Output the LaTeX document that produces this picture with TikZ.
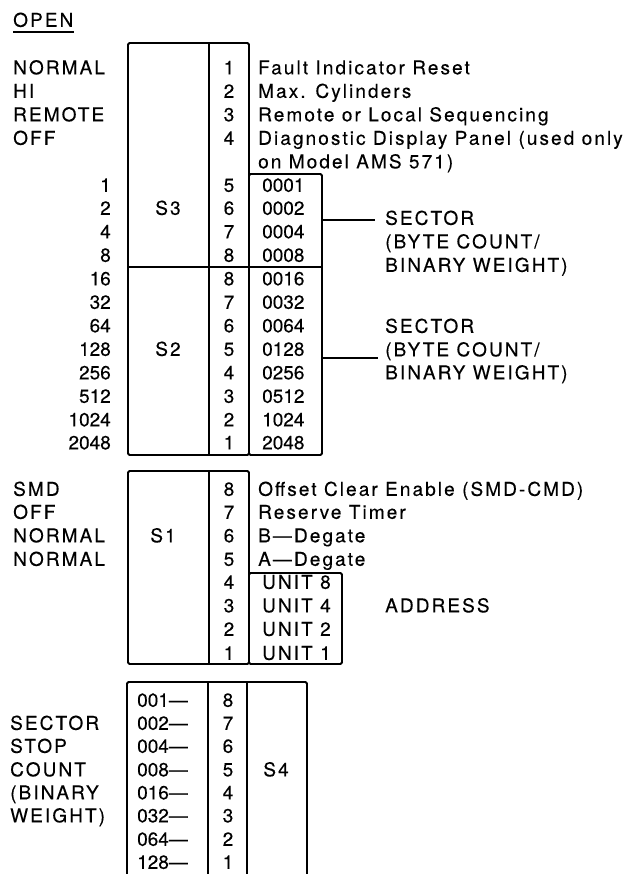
\documentclass[tikz,border=0pt]{standalone}
\usepackage{fontspec}
\setmainfont{TeX Gyre Heros}[LetterSpace=11, FakeBold=0.3]
\newfontfamily\numfont{TeX Gyre Heros}[FakeBold=0.3]
\usetikzlibrary{positioning}
\tikzset{
  swtext/.style={anchor=west, inner sep=0pt, text height=13.6pt, text depth=0pt, font=\fontsize{19}{23}\selectfont},
  swnum/.style={swtext, font=\fontsize{19}{23}\selectfont\numfont},
  swright/.style={swnum, anchor=east},
  swpos/.style={swnum, anchor=center},
  swname/.style={swtext, anchor=center},
  swbox/.style={draw=black, line width=1.9pt, rounded corners=1.5pt},
  swlead/.style={draw=black, line width=1.9pt},
  swuline/.style={draw=black, line width=1.5pt}
}

\begin{document}
\begin{tikzpicture}[x=1pt,y=-1pt]
\useasboundingbox (0,0) rectangle (631,874);

\node[swtext] (open) at (13,20) {OPEN};
\draw[swuline] ([yshift=-5pt]open.south west) -- ([yshift=-5pt]open.south east);

% S3 / S2
\draw[swbox] (128,43) rectangle (249,455);
\draw[swbox] (249,174) rectangle (322,455);
\draw[swlead] (209,43) -- (209,455);
\draw[swlead] (128,267) -- (322,267);

\node[swtext] (set1) at (13,67.5) {NORMAL};
\node[swtext] (set2) at (13,91) {HI};
\node[swtext] (set3) at (13,114.5) {REMOTE};
\node[swtext] (set4) at (13,138) {OFF};

\node[swright] (w1) at (111,185) {1};
\node[swright] (w2) at (111,208) {2};
\node[swright] (w4) at (111,231.5) {4};
\node[swright] (w8) at (111,255) {8};
\node[swright] (w16) at (111,278.5) {16};
\node[swright] (w32) at (111,302) {32};
\node[swright] (w64) at (111,325.5) {64};
\node[swright] (w128) at (111,349) {128};
\node[swright] (w256) at (111,372.5) {256};
\node[swright] (w512) at (111,396) {512};
\node[swright] (w1024) at (111,419.5) {1024};
\node[swright] (w2048) at (111,442.5) {2048};

\node[swname] (s3) at (168,208) {S3};
\node[swname] (s2) at (168,349) {S2};

\node[swpos] (a1) at (229,67.5) {1};
\node[swpos] (a2) at (229,91) {2};
\node[swpos] (a3) at (229,114.5) {3};
\node[swpos] (a4) at (229,138) {4};
\node[swpos] (a5) at (229,185) {5};
\node[swpos] (a6) at (229,208) {6};
\node[swpos] (a7) at (229,231.5) {7};
\node[swpos] (a8) at (229,255) {8};
\node[swpos] (b8) at (229,278.5) {8};
\node[swpos] (b7) at (229,302) {7};
\node[swpos] (b6) at (229,325.5) {6};
\node[swpos] (b5) at (229,349) {5};
\node[swpos] (b4) at (229,372.5) {4};
\node[swpos] (b3) at (229,396) {3};
\node[swpos] (b2) at (229,419.5) {2};
\node[swpos] (b1) at (229,442.5) {1};

\node[swtext] (f1) at (258,67.5) {Fault Indicator Reset};
\node[swtext] (f2) at (258,91) {Max. Cylinders};
\node[swtext] (f3) at (258,114.5) {Remote or Local Sequencing};
\node[swtext] (f4) at (258,138) {Diagnostic Display Panel (used only};
\node[swtext] (f4b) at (258,161.5) {on Model AMS 571)};

\node[swnum] (c1) at (262,185) {0001};
\node[swnum] (c2) at (262,208) {0002};
\node[swnum] (c4) at (262,231.5) {0004};
\node[swnum] (c8) at (262,255) {0008};
\node[swnum] (c16) at (262,278.5) {0016};
\node[swnum] (c32) at (262,302) {0032};
\node[swnum] (c64) at (262,325.5) {0064};
\node[swnum] (c128) at (262,349) {0128};
\node[swnum] (c256) at (262,372.5) {0256};
\node[swnum] (c512) at (262,396) {0512};
\node[swnum] (c1024) at (262,419.5) {1024};
\node[swnum] (c2048) at (262,442.5) {2048};

\node[swtext] (sec3a) at (385,218) {SECTOR};
\node[swtext] (sec3b) at (385,241.5) {(BYTE COUNT/};
\node[swtext] (sec3c) at (385,265) {BINARY WEIGHT)};
\coordinate (tap3) at (322,220);
\draw[swlead] (tap3) -- ([xshift=-10pt]tap3 -| sec3a.west);

\node[swtext] (sec2a) at (385,326) {SECTOR};
\node[swtext] (sec2b) at (385,349.5) {(BYTE COUNT/};
\node[swtext] (sec2c) at (385,372.5) {BINARY WEIGHT)};
\coordinate (tap2) at (322,358);
\draw[swlead] (tap2) -- ([xshift=-7pt]tap2 -| sec2b.west);

% S1
\draw[swbox] (128,471) rectangle (249,664);
\draw[swbox] (249,573) rectangle (342,664);
\draw[swlead] (209,471) -- (209,664);

\node[swtext] (m1) at (13,489) {SMD};
\node[swtext] (m2) at (13,512) {OFF};
\node[swtext] (m3) at (13,535.5) {NORMAL};
\node[swtext] (m4) at (13,559) {NORMAL};

\node[swname] (s1) at (163,535.5) {S1};

\node[swpos] (e8) at (229,489) {8};
\node[swpos] (e7) at (229,512) {7};
\node[swpos] (e6) at (229,535.5) {6};
\node[swpos] (e5) at (229,559) {5};
\node[swpos] (e4) at (229,582) {4};
\node[swpos] (e3) at (229,605.5) {3};
\node[swpos] (e2) at (229,629) {2};
\node[swpos] (e1) at (229,653) {1};

\node[swtext] (g8) at (258,489) {Offset Clear Enable (SMD-CMD)};
\node[swtext] (g7) at (258,512) {Reserve Timer};
\node[swtext] (g6) at (258,535.5) {B—Degate};
\node[swtext] (g5) at (258,559) {A—Degate};
\node[swtext] (u8) at (262,582) {UNIT 8};
\node[swtext] (u4) at (262,605.5) {UNIT 4};
\node[swtext] (u2) at (262,629) {UNIT 2};
\node[swtext] (u1) at (262,653) {UNIT 1};

\node[swtext] (addr) at (385,605.5) {ADDRESS};

% S4
\draw[swbox] (127,874) -- (127,682) -- (307,682) -- (307,874);
\draw[swlead] (208,682) -- (208,874);
\draw[swlead] (247,682) -- (247,874);

\node[swtext] (k1) at (10,723) {SECTOR};
\node[swtext] (k2) at (10,746) {STOP};
\node[swtext] (k3) at (10,769.5) {COUNT};
\node[swtext] (k4) at (10,792.5) {(BINARY};
\node[swtext] (k5) at (10,815.5) {WEIGHT)};

\node[swnum] (v1) at (137,700) {001—};
\node[swnum] (v2) at (137,723) {002—};
\node[swnum] (v4) at (137,746) {004—};
\node[swnum] (v8) at (137,769.5) {008—};
\node[swnum] (v16) at (137,792.5) {016—};
\node[swnum] (v32) at (137,815.5) {032—};
\node[swnum] (v64) at (137,839) {064—};
\node[swnum] (v128) at (137,862) {128—};

\node[swpos] (h8) at (228,700) {8};
\node[swpos] (h7) at (228,723) {7};
\node[swpos] (h6) at (228,746) {6};
\node[swpos] (h5) at (228,769.5) {5};
\node[swpos] (h4) at (228,792.5) {4};
\node[swpos] (h3) at (228,815.5) {3};
\node[swpos] (h2) at (228,839) {2};
\node[swpos] (h1) at (228,862) {1};

\node[swname] (s4) at (276,769.5) {S4};
\end{tikzpicture}
\end{document}
